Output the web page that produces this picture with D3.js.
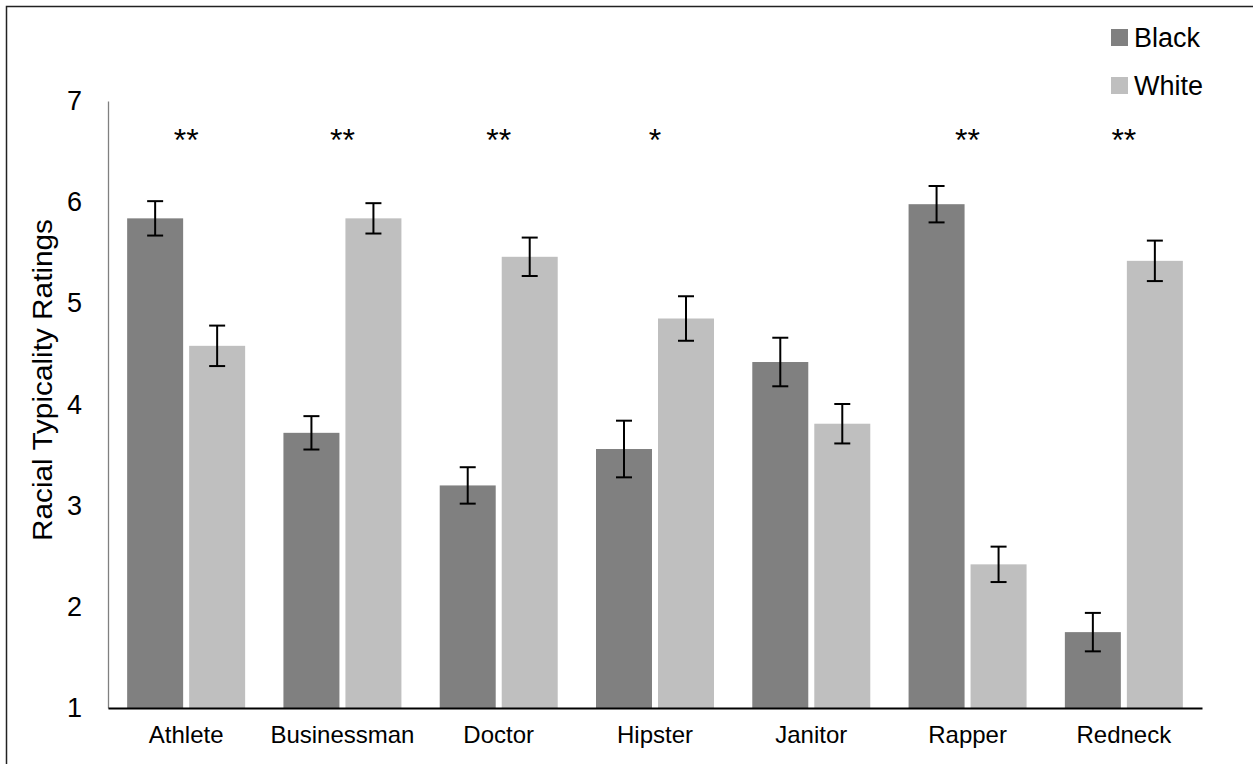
<!DOCTYPE html>
<html>
<head>
<meta charset="utf-8">
<script src="https://cdn.jsdelivr.net/npm/d3@7"></script>
<style>
  html, body { margin: 0; padding: 0; background: #fff; }
  svg { display: block; font-family: "Liberation Sans", Arial, Helvetica, sans-serif; }
</style>
</head>
<body>
<svg id="chart" width="1253" height="764"></svg>
<script>
const categories = ["Athlete", "Businessman", "Doctor", "Hipster", "Janitor", "Rapper", "Redneck"];
const seriesNames = ["Black", "White"];
const blackValues = [5.84, 3.72, 3.20, 3.56, 4.42, 5.98, 1.75];
const blackErrors = [0.17, 0.165, 0.18, 0.28, 0.24, 0.18, 0.19];
const whiteValues = [4.58, 5.84, 5.46, 4.85, 3.81, 2.42, 5.42];
const whiteErrors = [0.20, 0.15, 0.19, 0.22, 0.195, 0.175, 0.20];
const significance = ["**", "**", "**", "*", "", "**", "**"];
const yTicks = [1, 2, 3, 4, 5, 6, 7];
const colors = ["#808080", "#bfbfbf"];

const svg = d3.select("#chart");

// outer frame
svg.append("rect").attr("x", 6.5).attr("y", 6.5).attr("width", 1260).attr("height", 780)
  .attr("fill", "none").attr("stroke", "#222").attr("stroke-width", 1.5);

const x0 = d3.scaleBand().domain(categories).range([108, 1202]).paddingInner(0.245).paddingOuter(0.1225);
const x1 = d3.scaleBand().domain(seriesNames).range([0, x0.bandwidth()]).paddingInner(0.0968);
const y = d3.scaleLinear().domain([1, 7]).range([708, 101]);

const rows = categories.map((c, i) => ({
  cat: c,
  sig: significance[i],
  vals: [
    { s: "Black", v: blackValues[i], e: blackErrors[i] },
    { s: "White", v: whiteValues[i], e: whiteErrors[i] }
  ]
}));

const color = d3.scaleOrdinal().domain(seriesNames).range(colors);

// bars
const g = svg.append("g").selectAll("g").data(rows).join("g")
  .attr("transform", d => `translate(${x0(d.cat)},0)`);
g.selectAll("rect").data(d => d.vals).join("rect")
  .attr("x", d => x1(d.s)).attr("width", x1.bandwidth())
  .attr("y", d => y(d.v)).attr("height", d => y(1) - y(d.v))
  .attr("fill", d => color(d.s));

// error bars
const eb = g.selectAll("g.err").data(d => d.vals).join("g").attr("class", "err")
  .attr("stroke", "#000").attr("stroke-width", 2);
eb.append("line")
  .attr("x1", d => x1(d.s) + x1.bandwidth() / 2).attr("x2", d => x1(d.s) + x1.bandwidth() / 2)
  .attr("y1", d => y(d.v + d.e)).attr("y2", d => y(d.v - d.e));
eb.append("line")
  .attr("x1", d => x1(d.s) + x1.bandwidth() / 2 - 8).attr("x2", d => x1(d.s) + x1.bandwidth() / 2 + 8)
  .attr("y1", d => y(d.v + d.e)).attr("y2", d => y(d.v + d.e));
eb.append("line")
  .attr("x1", d => x1(d.s) + x1.bandwidth() / 2 - 8).attr("x2", d => x1(d.s) + x1.bandwidth() / 2 + 8)
  .attr("y1", d => y(d.v - d.e)).attr("y2", d => y(d.v - d.e));

// significance stars
svg.append("g").selectAll("text").data(rows).join("text")
  .attr("x", d => x0(d.cat) + x0.bandwidth() / 2)
  .attr("y", 151)
  .attr("text-anchor", "middle")
  .attr("font-size", 32)
  .attr("fill", "#000")
  .text(d => d.sig);

// y axis
const yAxis = d3.axisLeft(y).tickValues(yTicks).tickSize(0).tickPadding(26).tickFormat(d3.format("d"));
const yg = svg.append("g").attr("transform", "translate(108,0)").call(yAxis);
yg.select(".domain").attr("stroke", "#808080").attr("stroke-width", 1.3);
yg.selectAll("text").attr("font-size", 27).attr("fill", "#000")
  .attr("font-family", "'Liberation Sans', Arial, sans-serif");

// x axis
const xAxis = d3.axisBottom(x0).tickSize(0).tickPadding(18);
const xg = svg.append("g").attr("transform", "translate(0,708)").call(xAxis);
xg.select(".domain").attr("stroke", "#000").attr("stroke-width", 2);
xg.selectAll("text").attr("font-size", 24).attr("fill", "#000")
  .attr("font-family", "'Liberation Sans', Arial, sans-serif");

// y label
svg.append("text")
  .attr("transform", "translate(52,380) rotate(-90)")
  .attr("text-anchor", "middle")
  .attr("font-size", 27)
  .attr("textLength", 322)
  .attr("lengthAdjust", "spacingAndGlyphs")
  .attr("fill", "#000")
  .text("Racial Typicality Ratings");

// legend
const lg = svg.append("g").selectAll("g").data(seriesNames).join("g")
  .attr("transform", (d, i) => `translate(1111,${29 + i * 48})`);
lg.append("rect").attr("width", 17).attr("height", 17).attr("fill", d => color(d));
lg.append("text").attr("x", 23).attr("y", 8.5).attr("dy", "0.36em")
  .attr("font-size", 27).attr("fill", "#000").text(d => d);
</script>
</body>
</html>
